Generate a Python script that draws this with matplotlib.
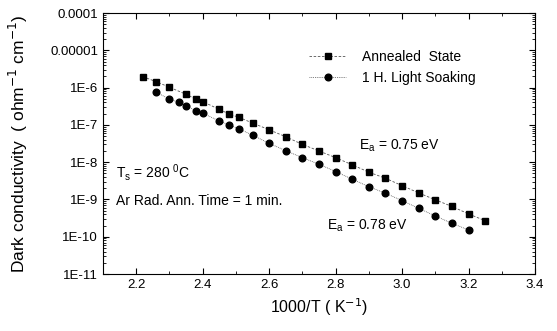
import matplotlib
matplotlib.use('Agg')
import matplotlib.pyplot as plt
from matplotlib.ticker import LogLocator, MultipleLocator, NullFormatter

plt.rcParams['font.family'] = ['Liberation Sans', 'DejaVu Sans']

# Datos
x_annealed = [2.22, 2.26, 2.30, 2.35, 2.38, 2.40, 2.45, 2.48, 2.51, 2.55, 2.60, 2.65,
              2.70, 2.75, 2.80, 2.85, 2.90, 2.95, 3.00, 3.05, 3.10, 3.15, 3.20, 3.25]
sigma_annealed = [1.96e-6, 1.44e-6, 1.02e-6, 6.6e-7, 4.9e-7, 4.2e-7, 2.6e-7, 1.95e-7,
                  1.58e-7, 1.12e-7, 7.4e-8, 4.8e-8, 3.0e-8, 2.0e-8, 1.32e-8, 8.5e-9,
                  5.4e-9, 3.7e-9, 2.35e-9, 1.5e-9, 9.8e-10, 6.5e-10, 4.1e-10, 2.7e-10]

x_soaking = [2.26, 2.30, 2.33, 2.35, 2.38, 2.40, 2.45, 2.48, 2.51, 2.55, 2.60, 2.65,
             2.70, 2.75, 2.80, 2.85, 2.90, 2.95, 3.00, 3.05, 3.10, 3.15, 3.20]
sigma_soaking = [7.5e-7, 4.9e-7, 4.0e-7, 3.2e-7, 2.4e-7, 2.05e-7, 1.27e-7, 9.9e-8,
                 7.8e-8, 5.3e-8, 3.2e-8, 2.03e-8, 1.32e-8, 8.8e-9, 5.6e-9, 3.5e-9,
                 2.2e-9, 1.47e-9, 9.3e-10, 5.8e-10, 3.6e-10, 2.3e-10, 1.52e-10]

y_ticks = [1e-11, 1e-10, 1e-9, 1e-8, 1e-7, 1e-6, 1e-5, 1e-4]
y_labels = ['1E-11', '1E-10', '1E-9', '1E-8', '1E-7', '1E-6', '0.00001', '0.0001']

fig = plt.figure(figsize=(5.57, 3.31), dpi=100)
ax = fig.add_axes([0.185, 0.172, 0.7755, 0.7887])

ax.plot(x_annealed, sigma_annealed, color='#555555', linestyle=(0, (3, 2)), linewidth=0.6,
        marker='s', markersize=4.6, markerfacecolor='black', markeredgecolor='black',
        label='Annealed  State')
ax.plot(x_soaking, sigma_soaking, color='#555555', linestyle=(0, (1, 1.2)), linewidth=0.6,
        marker='o', markersize=4.8, markerfacecolor='black', markeredgecolor='black',
        label='1 H. Light Soaking')

ax.set_yscale('log')
ax.set_xlim(2.1, 3.4)
ax.set_ylim(1e-11, 1e-4)
ax.set_yticks(y_ticks)
ax.set_yticklabels(y_labels)
ax.yaxis.set_minor_locator(LogLocator(base=10, subs=range(2, 10), numticks=20))
ax.yaxis.set_minor_formatter(NullFormatter())
ax.xaxis.set_major_locator(MultipleLocator(0.2))
ax.xaxis.set_minor_locator(MultipleLocator(0.1))
ax.tick_params(which='both', direction='in', top=True, right=True, labelsize=9.5)
ax.tick_params(which='major', length=4)
ax.tick_params(which='minor', length=2)

ax.set_xlabel('1000/T ( K$^{-1}$)', fontsize=11.5)
ax.set_ylabel('Dark conductivity  ( ohm$^{-1}$ cm$^{-1}$)', fontsize=12.5)
ax.yaxis.set_label_coords(-0.17, 0.5)

ax.text(2.87, 2.2e-8, 'E$_\\mathregular{a}$ = 0.75 eV', fontsize=10)
ax.text(2.775, 1.55e-10, 'E$_\\mathregular{a}$ = 0.78 eV', fontsize=10)
ax.text(2.14, 3.9e-9, 'T$_\\mathregular{s}$ = 280 $^\\mathregular{0}$C', fontsize=10)
ax.text(2.14, 7.2e-10, 'Ar Rad. Ann. Time = 1 min.', fontsize=10)

ax.legend(loc='upper left', bbox_to_anchor=(0.449, 0.905), frameon=False, fontsize=10,
          handlelength=2.6, handletextpad=1.2, labelspacing=0.5)

plt.savefig('out.png', dpi=100)
